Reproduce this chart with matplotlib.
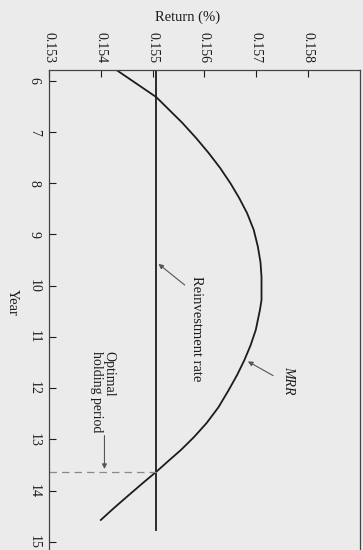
import matplotlib
matplotlib.use("Agg")
import matplotlib.pyplot as plt

plt.rcParams["font.family"] = ["Liberation Serif", "DejaVu Serif"]

# values (year, return)
years = [5.79, 6.32, 6.82, 7.12, 7.41, 7.70, 8.00, 8.29, 8.58, 8.91, 9.24, 9.54,
         9.83, 10.28, 10.47, 10.86, 11.16, 11.45, 11.74, 12.03, 12.37, 12.68,
         12.95, 13.20, 13.44, 13.63, 13.85, 14.12, 14.34, 14.57]
mrr = [0.15430, 0.15507, 0.15557, 0.15584, 0.15608, 0.15630, 0.15650, 0.15667,
       0.15682, 0.15695, 0.15703, 0.15708, 0.15710, 0.15710, 0.15707, 0.15699,
       0.15689, 0.15677, 0.15663, 0.15647, 0.15627, 0.15604, 0.15580, 0.15555,
       0.15528, 0.15507, 0.15481, 0.15450, 0.15425, 0.15400]
reinvest_rate = 0.15507
reinvest_years = [5.79, 14.77]
optimal_year = 13.63

year_ticks = [6, 7, 8, 9, 10, 11, 12, 13, 14, 15]
return_ticks = [0.153, 0.154, 0.155, 0.156, 0.157, 0.158]

bg = "#ebebeb"
ink = "#1c1c1c"

fig = plt.figure(figsize=(3.63, 5.5), dpi=100, facecolor=bg)
ax = fig.add_axes((0.135, -0.0036, 0.8567, 0.8764), facecolor=bg)

# the chart is drawn turned on its side: return runs across, year runs down
ax.plot(mrr, years, color=ink, linewidth=1.3, solid_joinstyle="round")
ax.plot([reinvest_rate, reinvest_rate], reinvest_years, color=ink, linewidth=1.3)
ax.plot([0.153, reinvest_rate], [optimal_year, optimal_year],
        color="#8a8a8a", linewidth=0.9, linestyle=(0, (6, 4)))

ax.set_xlim(0.153, 0.159)
ax.set_ylim(15.195, 5.79)

ax.xaxis.tick_top()
ax.set_xticks(return_ticks)
ax.set_xticklabels([f"{v:.3f}" for v in return_ticks], rotation=270, fontsize=10)
ax.set_yticks(year_ticks)
ax.set_yticklabels([str(v) for v in year_ticks], rotation=270, fontsize=10, va="center")
ax.tick_params(axis="x", direction="in", length=5, width=0.8, pad=5, colors=ink)
ax.tick_params(axis="y", direction="in", length=5, width=0.8, pad=6, colors=ink)
ax.spines["bottom"].set_visible(False)
for s in ["left", "top", "right"]:
    ax.spines[s].set_color("#444444")
    ax.spines[s].set_linewidth(0.9)

arrow = dict(arrowstyle="-|>", color="#555555", lw=0.8, mutation_scale=7)

ax.annotate("", xy=(0.15507, 9.54), xytext=(0.15566, 10.02), arrowprops=arrow)
ax.text(0.15585, 10.84, "Reinvestment rate", rotation=270, fontsize=10.5,
        ha="center", va="center", color=ink)

ax.annotate("", xy=(0.15679, 11.45), xytext=(0.15737, 11.78), arrowprops=arrow)
ax.text(0.15762, 11.84, "MRR", rotation=270, fontsize=10, style="italic",
        ha="center", va="center", color=ink)

ax.annotate("", xy=(0.15407, optimal_year), xytext=(0.15407, 12.87), arrowprops=arrow)
ax.text(0.15404, 12.07, "Optimal\nholding period", rotation=270, fontsize=10,
        ha="center", va="center", multialignment="left", linespacing=0.95, color=ink)

fig.text(0.518, 0.969, "Return (%)", fontsize=10.5, ha="center", va="center", color=ink)
fig.text(0.033, 0.451, "Year", fontsize=10.5, rotation=270, ha="center", va="center", color=ink)

fig.savefig("out.png", dpi=100, facecolor=bg)
